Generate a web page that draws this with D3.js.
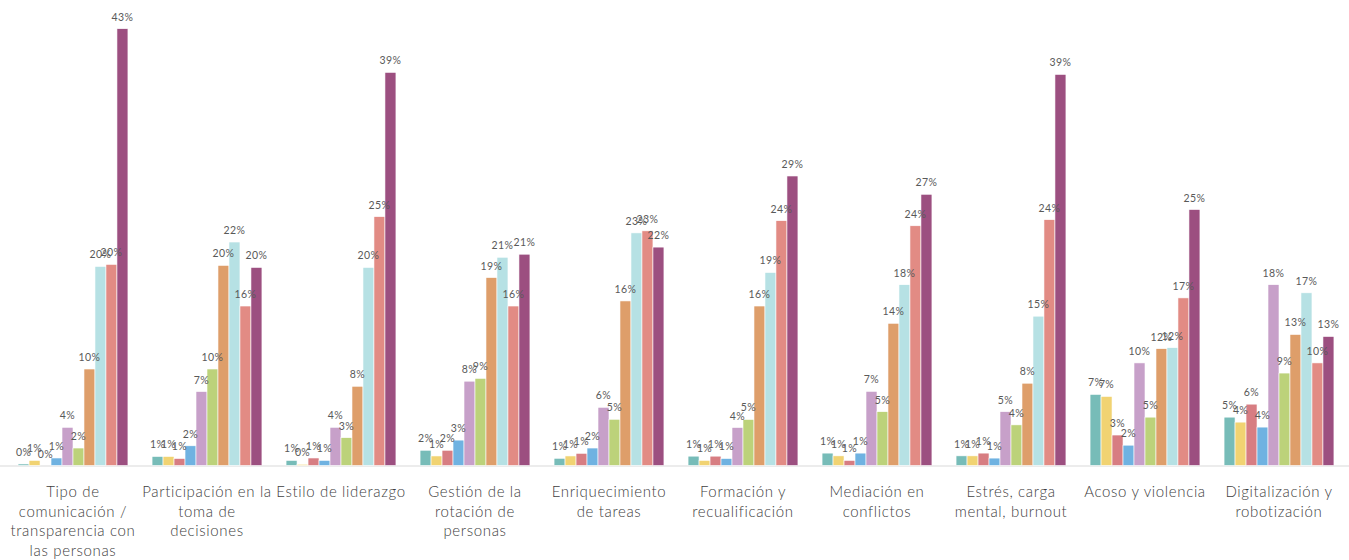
<!DOCTYPE html>
<html lang="es">
<head>
<meta charset="utf-8">
<title>Distribución de valoraciones por ámbito</title>
<script src="https://cdn.jsdelivr.net/npm/d3@7"></script>
<style>
  html, body { margin: 0; padding: 0; background: #ffffff; }
  svg { display: block; }
  .value-label { font-family: Lato, "Open Sans", sans-serif; font-size: 10.5px; fill: #595959; letter-spacing: 0.4px; }
  .cat-label { font-family: Lato, "Open Sans", sans-serif; font-weight: 300; font-size: 15px; fill: #404040; letter-spacing: 0.65px; }
</style>
</head>
<body>
<svg id="chart" width="1349" height="560"></svg>
<script>
// Ámbitos evaluados (una línea de texto por elemento)
const categories = [
  "Tipo de comunicación / transparencia con las personas",
  "Participación en la toma de decisiones",
  "Estilo de liderazgo",
  "Gestión de la rotación de personas",
  "Enriquecimiento de tareas",
  "Formación y recualificación",
  "Mediación en conflictos",
  "Estrés, carga mental, burnout",
  "Acoso y violencia",
  "Digitalización y robotización"
];
const categoryLines = [
  ["Tipo de", "comunicación /", "transparencia con", "las personas"],
  ["Participación en la", "toma de", "decisiones"],
  ["Estilo de liderazgo"],
  ["Gestión de la", "rotación de", "personas"],
  ["Enriquecimiento", "de tareas"],
  ["Formación y", "recualificación"],
  ["Mediación en", "conflictos"],
  ["Estrés, carga", "mental, burnout"],
  ["Acoso y violencia"],
  ["Digitalización y", "robotización"]
];

// Porcentaje de respuestas por nivel de valoración (1 a 10)
const nivel1  = [0.15, 0.89, 0.5, 1.5, 0.71, 0.92, 1.22, 0.95, 7.0, 4.76];
const nivel2  = [0.5, 0.89, 0.12, 0.94, 0.94, 0.5, 0.95, 0.95, 6.8, 4.27];
const nivel3  = [0, 0.69, 0.74, 1.5, 1.2, 0.92, 0.5, 1.22, 3.0, 6.04];
const nivel4  = [0.74, 1.94, 0.5, 2.5, 1.72, 0.69, 1.22, 0.73, 2.0, 3.78];
const nivel5  = [3.76, 7.28, 3.76, 8.3, 5.73, 3.74, 7.3, 5.3, 10.1, 17.8];
const nivel6  = [1.72, 9.5, 2.74, 8.58, 4.55, 4.53, 5.3, 4.0, 4.76, 9.1];
const nivel7  = [9.5, 19.7, 7.8, 18.5, 16.2, 15.7, 14.0, 8.1, 11.5, 12.9];
const nivel8  = [19.6, 22.0, 19.5, 20.5, 22.9, 19.0, 17.8, 14.7, 11.6, 17.0];
const nivel9  = [19.8, 15.7, 24.5, 15.7, 23.1, 24.1, 23.6, 24.2, 16.5, 10.1];
const nivel10 = [43.0, 19.5, 38.7, 20.8, 21.5, 28.5, 26.7, 38.5, 25.2, 12.7];

const seriesNames = ["1", "2", "3", "4", "5", "6", "7", "8", "9", "10"];
const seriesValues = [nivel1, nivel2, nivel3, nivel4, nivel5, nivel6, nivel7, nivel8, nivel9, nivel10];
const seriesColors = ["#77bcb8", "#f1d372", "#d77d82", "#6fb2e1", "#c7a0c9",
                      "#bcd27a", "#de9e6a", "#b6e1e4", "#e28b84", "#9c4f80"];

const width = 1349, height = 560;
const baseline = 465.5;
const svg = d3.select("#chart");

const x0 = d3.scaleBand()
  .domain(categories)
  .range([6, 1346])
  .paddingInner(0.18)
  .paddingOuter(0.09);

const x1 = d3.scaleBand()
  .domain(seriesNames)
  .range([0, x0.bandwidth()]);

const y = d3.scaleLinear()
  .domain([0, 43])
  .range([baseline, 28.7]);

const color = d3.scaleOrdinal().domain(seriesNames).range(seriesColors);

// Tabla plana: una fila por barra
const rows = [];
categories.forEach((c, i) => {
  seriesNames.forEach((s, j) => {
    rows.push({ category: c, series: s, value: seriesValues[j][i] });
  });
});

// Línea base
svg.append("line")
  .attr("x1", 0).attr("x2", width)
  .attr("y1", baseline + 0.5).attr("y2", baseline + 0.5)
  .attr("stroke", "#d9d9d9")
  .attr("stroke-width", 1.2);

// Barras
svg.append("g")
  .selectAll("rect")
  .data(rows)
  .join("rect")
  .attr("x", d => x0(d.category) + x1(d.series))
  .attr("width", x1.bandwidth())
  .attr("y", d => y(d.value))
  .attr("height", d => baseline - y(d.value))
  .attr("fill", d => color(d.series))
  .attr("stroke", "#ffffff")
  .attr("stroke-width", 0.6);

// Etiquetas de valor
svg.append("g")
  .selectAll("text")
  .data(rows)
  .join("text")
  .attr("class", "value-label")
  .attr("x", d => x0(d.category) + x1(d.series) + x1.bandwidth() / 2)
  .attr("y", d => y(d.value) - 8)
  .attr("text-anchor", "middle")
  .text(d => Math.round(d.value) + "%");

// Etiquetas de categoría
const catG = svg.append("g")
  .selectAll("text")
  .data(categories)
  .join("text")
  .attr("class", "cat-label")
  .attr("x", d => x0(d) + x0.bandwidth() / 2)
  .attr("y", 497)
  .attr("text-anchor", "middle");

catG.each(function (d, i) {
  const t = d3.select(this);
  categoryLines[i].forEach((line, k) => {
    t.append("tspan")
      .attr("x", x0(d) + x0.bandwidth() / 2)
      .attr("dy", k === 0 ? 0 : 19.5)
      .text(line);
  });
});
</script>
</body>
</html>
